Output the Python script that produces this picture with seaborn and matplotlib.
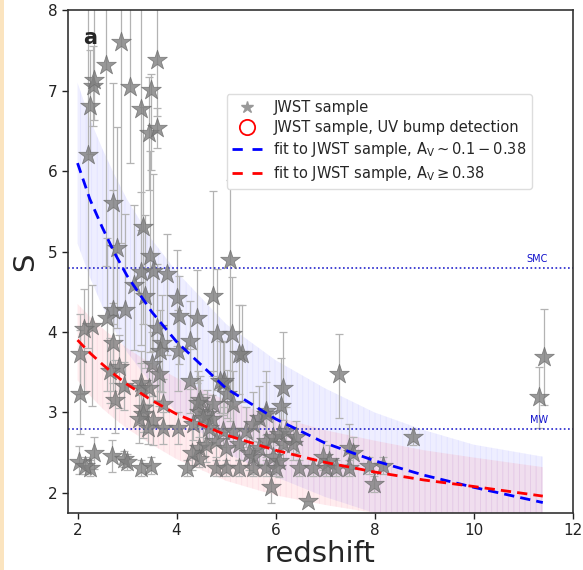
import numpy as np
import pandas as pd
import matplotlib
matplotlib.use("Agg")
import matplotlib.pyplot as plt
from matplotlib.lines import Line2D
from matplotlib.patches import Rectangle
import seaborn as sns

# ---------------- data ----------------
z_vals = [2.21, 2.26, 2.31, 2.34, 2.58, 2.87, 3.07, 3.28, 3.44, 3.49, 3.61, 3.61,
          2.71, 3.32, 2.79, 3.46, 3.29, 3.52, 3.80, 5.08, 3.15, 3.36, 4.00, 4.73,
          2.71, 2.95, 4.06, 4.41, 2.59, 3.60, 2.30, 2.14, 4.81, 5.12, 3.70, 3.66,
          2.71, 2.04, 4.27, 4.02, 5.32, 2.83, 3.50, 4.27, 3.64, 2.65, 3.29, 2.04,
          2.75, 4.94, 3.72, 3.32, 3.32, 3.52, 4.47, 4.61, 4.71, 5.02, 2.93, 3.28,
          3.44, 3.24, 3.42, 3.72, 4.02, 4.33, 4.45, 4.43, 4.53, 4.73, 4.65, 4.45,
          4.59, 4.79, 4.94, 5.14, 5.40, 5.00, 5.26, 5.46, 5.54, 5.66, 5.81, 5.95,
          6.07, 6.15, 6.21, 6.35, 6.41, 5.66, 5.81, 5.54, 5.95, 6.07, 6.96, 7.08,
          6.15, 6.11, 5.80, 4.96, 5.26, 4.87, 5.14, 7.28, 8.77, 7.49, 7.56, 7.99,
          8.17, 7.89, 5.91, 6.65,
          4.79, 5.00, 5.26, 5.54, 5.81, 6.01, 6.47, 6.76, 7.02, 7.22, 7.49, 4.22,
          3.28, 2.26,
          2.03, 2.16, 2.33, 2.70, 2.93, 3.00, 3.48, 4.46, 4.32,
          11.42, 11.32]
s_vals = [6.20, 6.81, 7.06, 7.13, 7.32, 7.61, 7.05, 6.77, 6.47, 7.01, 7.38, 6.54,
          5.60, 5.30, 5.05, 4.95, 4.74, 4.76, 4.72, 4.89, 4.58, 4.45, 4.42, 4.45,
          4.27, 4.27, 4.20, 4.17, 4.17, 4.05, 4.08, 4.04, 3.98, 3.98, 3.86, 3.77,
          3.86, 3.73, 3.89, 3.77, 3.73, 3.56, 3.60, 3.39, 3.48, 3.52, 3.36, 3.23,
          3.15, 3.37, 3.11, 3.06, 2.98, 2.90, 3.15, 2.98, 2.92, 3.23, 3.33, 3.31,
          3.31, 2.92, 2.81, 2.81, 2.81, 2.86, 3.00, 3.12, 2.93, 3.11, 2.81, 2.56,
          2.59, 2.65, 2.77, 2.77, 2.77, 2.56, 2.61, 2.49, 2.44, 2.56, 2.65, 2.69,
          2.73, 2.61, 2.77, 2.61, 2.69, 2.93, 3.02, 2.86, 2.44, 2.40, 2.44, 2.40,
          3.30, 3.08, 2.98, 3.39, 3.73, 3.39, 3.11, 3.48, 2.69, 2.56, 2.50, 2.11,
          2.34, 2.34, 2.07, 1.90,
          2.31, 2.31, 2.31, 2.31, 2.31, 2.31, 2.31, 2.31, 2.31, 2.31, 2.31, 2.31,
          2.31, 2.31,
          2.38, 2.34, 2.50, 2.46, 2.42, 2.38, 2.34, 2.42, 2.49,
          3.69, 3.19]
s_err_lo = [2.4, 0.6, 0.5, 0.5, 2.5, 2.5, 0.95, 1.5, 0.7, 1.0, 0.7, 0.25,
            1.5, 1.2, 1.0, 1.2, 0.9, 1.0, 1.0, 2.0, 0.8, 0.9, 0.6, 1.0,
            1.0, 1.0, 0.6, 0.8, 0.9, 0.9, 1.0, 0.8, 0.7, 0.9, 0.6, 0.5,
            0.5, 0.5, 0.6, 0.5, 0.6, 0.5, 0.4, 0.4, 0.4, 0.4, 0.4, 0.5,
            0.4, 0.4, 0.3, 0.3, 0.3, 0.3, 0.3, 0.3, 0.3, 0.3, 0.3, 0.3,
            0.3, 0.3, 0.2, 0.2, 0.2, 0.2, 0.3, 0.3, 0.3, 0.3, 0.2, 0.2,
            0.2, 0.2, 0.2, 0.2, 0.2, 0.2, 0.2, 0.2, 0.2, 0.2, 0.2, 0.2,
            0.2, 0.2, 0.2, 0.2, 0.2, 0.3, 0.3, 0.3, 0.2, 0.2, 0.15, 0.15,
            0.4, 0.4, 0.3, 0.4, 0.5, 0.4, 0.3, 0.55, 0.1, 0.2, 0.2, 0.1,
            0.1, 0.1, 0.2, 0.0,
            0.1, 0.1, 0.1, 0.1, 0.1, 0.1, 0.1, 0.1, 0.1, 0.1, 0.1, 0.1,
            0.1, 0.1,
            0.15, 0.1, 0.2, 0.2, 0.1, 0.1, 0.1, 0.1, 0.2,
            0.6, 0.38]
s_err_hi = [2.5, 0.7, 0.5, 1.0, 1.0, 0.5, 1.0, 1.5, 0.7, 0.2, 0.8, 0.25,
            1.5, 1.5, 1.5, 1.3, 1.0, 1.2, 0.5, 1.0, 1.0, 1.0, 0.6, 1.3,
            1.5, 1.2, 0.5, 0.6, 1.0, 0.8, 0.5, 0.5, 0.8, 0.7, 0.6, 0.5,
            0.5, 0.5, 0.5, 0.5, 0.6, 0.4, 0.4, 0.4, 0.4, 0.4, 0.4, 0.8,
            0.5, 0.5, 0.3, 0.3, 0.3, 0.3, 0.3, 0.3, 0.3, 0.3, 0.3, 0.3,
            0.3, 0.3, 0.3, 0.2, 0.2, 0.3, 0.4, 0.4, 0.3, 0.4, 0.3, 0.3,
            0.3, 0.3, 0.3, 0.3, 0.3, 0.2, 0.2, 0.2, 0.2, 0.3, 0.3, 0.3,
            0.3, 0.2, 0.3, 0.2, 0.2, 0.4, 0.5, 0.4, 0.2, 0.2, 0.2, 0.2,
            0.7, 0.6, 0.4, 0.5, 0.6, 0.5, 0.4, 0.5, 0.1, 0.3, 0.2, 0.1,
            0.1, 0.1, 0.2, 0.0,
            0.1, 0.1, 0.1, 0.1, 0.1, 0.1, 0.1, 0.1, 0.1, 0.1, 0.1, 0.1,
            0.1, 0.1,
            0.2, 0.1, 0.2, 0.2, 0.1, 0.1, 0.1, 0.1, 0.3,
            0.6, 0.37]

# fitted relations and their uncertainty bands
fit_z = [2.0, 2.25, 2.5, 2.75, 3.0, 3.5, 4.0, 5.0, 6.0, 7.0, 8.0, 9.0, 10.0, 11.4]
fit_blue = [6.10, 5.65, 5.30, 4.98, 4.70, 4.25, 3.88, 3.30, 2.92, 2.62, 2.40, 2.22, 2.07, 1.88]
fit_blue_hi = [7.10, 6.65, 6.28, 5.95, 5.65, 5.15, 4.75, 4.10, 3.65, 3.30, 3.00, 2.78, 2.60, 2.45]
fit_blue_lo = [5.10, 4.68, 4.32, 4.02, 3.75, 3.35, 3.00, 2.50, 2.20, 1.95, 1.75, 1.60, 1.50, 1.35]
fit_red = [3.90, 3.74, 3.60, 3.47, 3.35, 3.15, 2.98, 2.72, 2.53, 2.38, 2.26, 2.16, 2.08, 1.96]
fit_red_hi = [4.35, 4.19, 4.05, 3.92, 3.80, 3.60, 3.43, 3.15, 2.95, 2.78, 2.65, 2.53, 2.44, 2.32]
fit_red_lo = [3.40, 3.21, 3.05, 2.92, 2.80, 2.60, 2.42, 2.15, 1.97, 1.85, 1.75, 1.66, 1.60, 1.55]

ref_names = ["SMC", "MW"]
ref_values = [4.8, 2.8]

# ---------------- plotting ----------------
sns.set_style("ticks")
plt.rcParams["font.family"] = ["DejaVu Sans"]

df = pd.DataFrame({"z": z_vals, "S": s_vals})
fits = pd.DataFrame({"z": fit_z, "blue": fit_blue, "red": fit_red})

fig = plt.figure(figsize=(5.83, 5.70), dpi=100)
ax = fig.add_axes([0.116, 0.100, 0.866, 0.882])

# uncertainty bands
plt.rcParams["hatch.linewidth"] = 0.6
ax.fill_between(fit_z, fit_blue_lo, fit_blue_hi, facecolor=(0.35, 0.35, 1.0, 0.10),
                edgecolor=(0.5, 0.5, 1.0, 0.10), hatch="|||", linewidth=0, zorder=1)
ax.fill_between(fit_z, fit_red_lo, fit_red_hi, facecolor=(1.0, 0.45, 0.5, 0.13),
                edgecolor=(0.85, 0.4, 0.6, 0.10), hatch="|||", linewidth=0, zorder=1)

# error bars
ax.errorbar(z_vals, s_vals, yerr=[s_err_lo, s_err_hi], fmt="none",
            ecolor="#b3b3b3", elinewidth=0.9, capsize=3, capthick=0.9, zorder=2)

# stars
sns.scatterplot(data=df, x="z", y="S", marker="*", s=220, color="#7f7f7f",
                edgecolor="#6e6e6e", linewidth=0.6, alpha=0.8, ax=ax, zorder=3,
                legend=False)

# fits
sns.lineplot(data=fits, x="z", y="blue", color="blue", lw=2, ax=ax, zorder=4)
sns.lineplot(data=fits, x="z", y="red", color="red", lw=2, ax=ax, zorder=4)
for ln in ax.get_lines()[-2:]:
    ln.set_linestyle((0, (3.7, 2.2)))

# reference lines
for name, val in zip(ref_names, ref_values):
    ax.axhline(val, color="#2222cc", ls=(0, (1, 1.5)), lw=1.2, zorder=2)
    ax.text(11.5, val + 0.05, name, color="#1111cc", fontsize=7,
            ha="right", va="bottom")

ax.set_xlim(1.8, 12)
ax.set_ylim(1.75, 8)
ax.set_xticks([2, 4, 6, 8, 10, 12])
ax.set_yticks([2, 3, 4, 5, 6, 7, 8])
ax.tick_params(labelsize=11, length=4, width=1, colors="#222222")
ax.set_xlabel("redshift", fontsize=21, labelpad=1)
ax.set_ylabel("S", fontsize=21, labelpad=6)
for sp in ax.spines.values():
    sp.set_visible(True)
    sp.set_color("#333333")
    sp.set_linewidth(1.2)

ax.text(0.03, 0.965, "a", transform=ax.transAxes, fontsize=15, fontweight="bold",
        va="top", ha="left")

handles = [
    Line2D([], [], marker="*", ls="none", color="#999999", markersize=9),
    Line2D([], [], marker="o", ls="none", markerfacecolor="none",
           markeredgecolor="red", markeredgewidth=1.3, markersize=11),
    Line2D([], [], color="blue", ls=(0, (3.7, 3.5)), lw=2),
    Line2D([], [], color="red", ls=(0, (3.7, 3.5)), lw=2),
]
labels = [
    "JWST sample",
    "JWST sample, UV bump detection",
    r"fit to JWST sample, $\mathrm{A_V}\sim0.1-0.38$",
    r"fit to JWST sample, $\mathrm{A_V}\geq0.38$",
]
ax.legend(handles, labels, loc="upper right", bbox_to_anchor=(0.935, 0.848),
          fontsize=10.5, frameon=True, framealpha=1, edgecolor="#dddddd",
          handlelength=2.0, labelspacing=0.35, borderpad=0.4)

# pale orange strip on the left edge
fig.patches.append(Rectangle((0, 0), 4 / 583, 1, transform=fig.transFigure,
                             facecolor="#fbe4bf", edgecolor="none"))

fig.savefig("out.png", dpi=100)
